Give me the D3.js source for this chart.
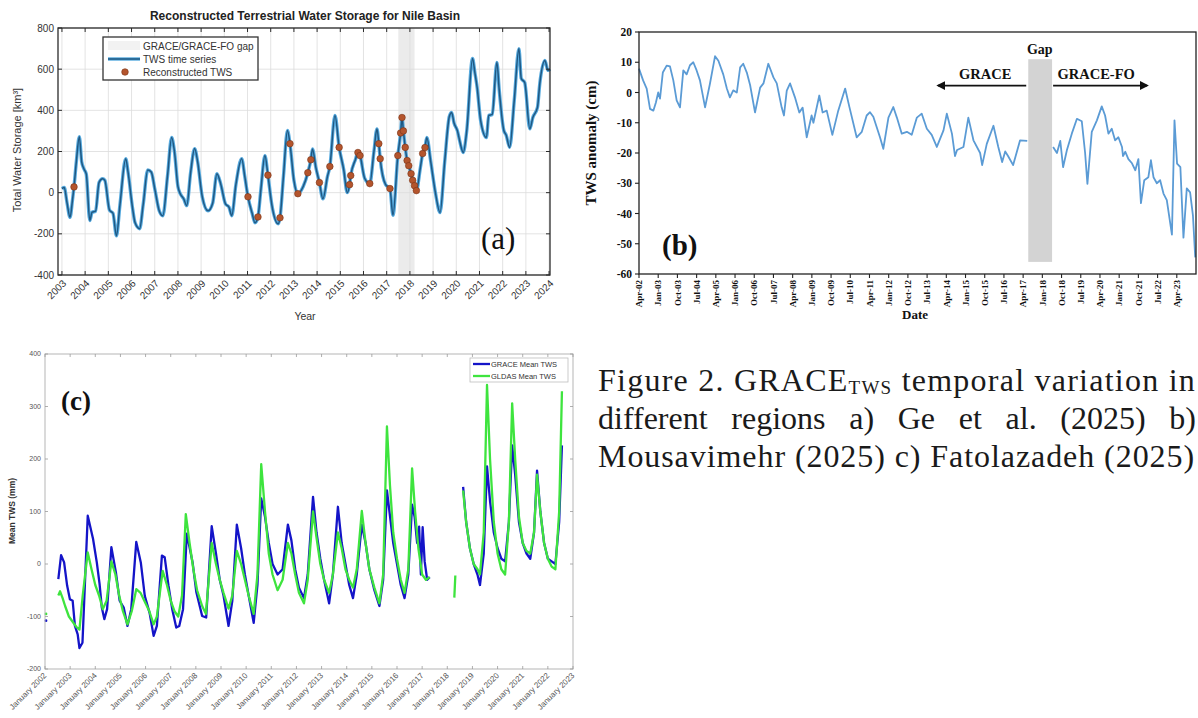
<!DOCTYPE html>
<html>
<head>
<meta charset="utf-8">
<script src="https://cdn.jsdelivr.net/npm/d3@7"></script>
<style>
  body { margin: 0; background: #fff; }
  svg { display: block; }
</style>
</head>
<body>
<div id="chart"></div>
<script>
// ---------- data (a) Ge et al., Nile basin TWS [km3] ----------
const aYears = d3.range(2003, 2025);
const aTicksY = [-400, -200, 0, 200, 400, 600, 800];
const aGap = [2017.5, 2018.2];
const aTws = [
  [2003.00, 20], [2003.10, 25], [2003.22, -50], [2003.35, -120], [2003.45, -40], [2003.52, 28],
  [2003.62, 150], [2003.75, 272], [2003.85, 150], [2003.95, 115], [2004.05, 90], [2004.20, -135],
  [2004.30, -95], [2004.45, -90], [2004.60, 50], [2004.75, 68], [2004.85, 60], [2005.05, -85],
  [2005.20, -100], [2005.35, -210], [2005.50, -60], [2005.75, 165], [2005.85, 100], [2006.05, -80],
  [2006.15, -145], [2006.35, -175], [2006.50, -60], [2006.70, 110], [2006.85, 100], [2007.00, 20],
  [2007.20, -90], [2007.35, -112], [2007.55, 80], [2007.73, 268], [2007.85, 200], [2008.00, 30],
  [2008.10, -5], [2008.25, -30], [2008.38, -63], [2008.55, 100], [2008.72, 214], [2008.85, 150],
  [2009.05, -20], [2009.30, -88], [2009.50, -50], [2009.68, 92], [2009.85, 40], [2010.05, -55],
  [2010.20, -70], [2010.32, -112], [2010.50, 40], [2010.75, 165], [2010.88, 80], [2011.02, -20],
  [2011.20, -100], [2011.32, -146], [2011.45, -118], [2011.58, 20], [2011.75, 180], [2011.88, 85],
  [2012.05, -60], [2012.32, -151], [2012.40, -122], [2012.55, 80], [2012.72, 302], [2012.83, 238],
  [2013.00, 60], [2013.17, -5], [2013.40, 30], [2013.60, 97], [2013.73, 160], [2013.80, 212],
  [2013.95, 120], [2014.10, 49], [2014.25, -30], [2014.45, 80], [2014.55, 127], [2014.77, 375],
  [2014.95, 220], [2015.15, 110], [2015.30, 0], [2015.40, 39], [2015.45, 83], [2015.65, 160],
  [2015.76, 195], [2015.85, 180], [2016.05, 70], [2016.27, 44], [2016.45, 200], [2016.58, 310],
  [2016.66, 238], [2016.72, 165], [2016.95, 40], [2017.14, 20], [2017.27, -110], [2017.48, 180],
  [2017.60, 290], [2017.66, 365], [2017.72, 300], [2017.80, 220], [2017.88, 156], [2017.95, 131],
  [2018.05, 92], [2018.12, 60], [2018.20, 34], [2018.28, 10], [2018.45, 120], [2018.55, 190],
  [2018.65, 219], [2018.73, 268], [2018.90, 150], [2019.10, 0], [2019.30, -97], [2019.50, 150],
  [2019.70, 370], [2019.80, 390], [2019.90, 340], [2020.05, 300], [2020.15, 250], [2020.30, 195],
  [2020.45, 300], [2020.70, 652], [2020.80, 584], [2020.90, 510], [2021.05, 350], [2021.30, 268],
  [2021.40, 375], [2021.55, 380], [2021.75, 633], [2021.85, 500], [2022.05, 302], [2022.15, 280],
  [2022.30, 220], [2022.50, 450], [2022.70, 700], [2022.80, 555], [2022.95, 535], [2023.17, 310],
  [2023.30, 365], [2023.50, 414], [2023.60, 530], [2023.82, 642], [2023.95, 594], [2024.04, 600]
];
const aRecon = [
  [2003.52, 28], [2011.02, -20], [2011.45, -118], [2011.88, 85], [2012.40, -122], [2012.83, 238],
  [2013.17, -5], [2013.60, 97], [2013.73, 160], [2014.10, 49], [2014.55, 127], [2014.95, 220],
  [2015.40, 39], [2015.45, 83], [2015.76, 195], [2015.85, 180], [2016.27, 44], [2016.66, 238],
  [2016.72, 165], [2017.14, 20], [2017.48, 180], [2017.60, 290], [2017.66, 365], [2017.72, 300],
  [2017.80, 220], [2017.88, 156], [2017.95, 131], [2018.05, 92], [2018.12, 60], [2018.20, 34],
  [2018.28, 10], [2018.55, 190], [2018.65, 219]
];

// ---------- data (b) Mousavimehr, TWS anomaly [cm] ----------
const bTicksY = [20, 10, 0, -10, -20, -30, -40, -50, -60];
const bTickLabels = ["Apr-02", "Jan-03", "Oct-03", "Jul-04", "Apr-05", "Jan-06", "Oct-06", "Jul-07",
  "Apr-08", "Jan-09", "Oct-09", "Jul-10", "Apr-11", "Jan-12", "Oct-12", "Jul-13", "Apr-14", "Jan-15",
  "Oct-15", "Jul-16", "Apr-17", "Jan-18", "Oct-18", "Jul-19", "Apr-20", "Jan-21", "Oct-21", "Jul-22", "Apr-23"];
const bGap = [2017.45, 2018.38];
const bGapSpan = [11, -56];
const bTws = [
  [2002.25, 7.9], [2002.41, 4], [2002.55, 1.3], [2002.68, -5.4], [2002.81, -6], [2002.91, -3.3],
  [2003.00, 0], [2003.07, -2], [2003.18, 6.6], [2003.33, 8.9], [2003.46, 8.6], [2003.59, 4],
  [2003.72, -2.6], [2003.85, -4.9], [2003.98, 7.3], [2004.11, 6], [2004.24, 9], [2004.37, 10],
  [2004.50, 7.3], [2004.63, 4], [2004.83, -4.9], [2005.02, 2.9], [2005.22, 12], [2005.35, 10.5],
  [2005.54, 6], [2005.68, 1.3], [2005.80, -1.6], [2005.93, 0.7], [2006.07, 0], [2006.20, 8.3],
  [2006.32, 9.5], [2006.46, 6.6], [2006.59, 2.4], [2006.78, -6.6], [2006.98, 1.6], [2007.11, 3],
  [2007.30, 9.5], [2007.50, 5], [2007.63, 3], [2007.82, -4.9], [2007.91, -7.6], [2008.02, 0.6],
  [2008.15, 3], [2008.34, -1.6], [2008.51, -6.6], [2008.64, -5], [2008.80, -14.8], [2008.99, -7.6],
  [2009.06, -10], [2009.29, -1], [2009.42, -6.6], [2009.58, -6], [2009.80, -14], [2010.03, -6],
  [2010.30, 1.3], [2010.46, -4.6], [2010.75, -14.8], [2010.95, -13], [2011.14, -7.6], [2011.27, -6.5],
  [2011.40, -8], [2011.66, -14.8], [2011.79, -18.6], [2011.99, -8.3], [2012.18, -4.8], [2012.32, -8.3],
  [2012.51, -13.6], [2012.71, -13], [2012.90, -14], [2013.10, -8.3], [2013.29, -7], [2013.49, -12],
  [2013.68, -14], [2013.88, -18], [2014.14, -12.5], [2014.27, -7], [2014.47, -13.6], [2014.59, -21],
  [2014.67, -19], [2014.92, -18], [2015.11, -8.3], [2015.31, -15.8], [2015.57, -20], [2015.65, -24],
  [2015.83, -17], [2016.09, -11], [2016.28, -18], [2016.43, -23], [2016.55, -19.5], [2016.66, -21],
  [2016.86, -24], [2017.13, -15.8], [2017.41, -16],
  null,
  [2018.42, -18], [2018.57, -20], [2018.70, -16], [2018.81, -24.7], [2018.96, -19], [2019.15, -13.6],
  [2019.35, -8.7], [2019.54, -9.5], [2019.67, -20], [2019.76, -30.2], [2019.93, -13], [2020.13, -9.2],
  [2020.32, -4.6], [2020.45, -7.6], [2020.58, -13.6], [2020.71, -12], [2020.84, -15.8], [2020.97, -14.8],
  [2021.11, -18], [2021.15, -21], [2021.24, -19.6], [2021.36, -22], [2021.50, -23.4], [2021.63, -25.7],
  [2021.75, -22], [2021.85, -36.6], [2021.98, -29], [2022.14, -28], [2022.24, -22.4], [2022.34, -28],
  [2022.47, -30], [2022.60, -29], [2022.73, -33.4], [2022.86, -35.6], [2023.06, -47], [2023.16, -9.2],
  [2023.26, -23.5], [2023.39, -24.7], [2023.51, -48], [2023.64, -31.7], [2023.77, -33], [2023.88, -40.6],
  [2023.97, -54.5]
];

// ---------- data (c) Fatolazadeh, mean TWS [mm] ----------
const cYears = d3.range(2002, 2024);
const cTicksY = [-200, -100, 0, 100, 200, 300, 400];
const cGraceIso = [[2002.04, -108]];
const cGldasIso = [[2002.04, -95]];
const cGrace = [
  [2002.53, -29], [2002.64, 17], [2002.76, 3], [2002.88, -41], [2002.99, -67], [2003.10, -70],
  [2003.19, -118], [2003.30, -134], [2003.37, -160], [2003.49, -150], [2003.70, 92], [2003.91, 48],
  [2004.06, 3], [2004.17, -38], [2004.26, -83], [2004.36, -105], [2004.47, -86], [2004.64, 32],
  [2004.82, -16], [2004.97, -70], [2005.13, -83], [2005.28, -118], [2005.43, -86], [2005.63, 42],
  [2005.81, 3], [2005.97, -61], [2006.16, -93], [2006.32, -137], [2006.45, -118], [2006.65, 16],
  [2006.76, 13], [2006.91, -41], [2007.06, -86], [2007.22, -121], [2007.34, -118], [2007.49, -86],
  [2007.64, 58], [2007.87, 3], [2008.02, -54], [2008.25, -99], [2008.41, -102], [2008.63, 72],
  [2008.80, 20], [2008.95, -30], [2009.10, -60], [2009.30, -118], [2009.45, -70], [2009.63, 75],
  [2009.80, 30], [2009.95, -20], [2010.10, -60], [2010.30, -112], [2010.45, -40], [2010.60, 125],
  [2010.75, 90], [2010.90, 40], [2011.05, 0], [2011.25, -20], [2011.45, -10], [2011.66, 75],
  [2011.80, 45], [2011.95, -10], [2012.10, -45], [2012.30, -65], [2012.45, -20], [2012.66, 128],
  [2012.80, 60], [2012.95, 10], [2013.10, -30], [2013.30, -75], [2013.45, -20], [2013.65, 109],
  [2013.80, 40], [2013.95, 0], [2014.10, -40], [2014.25, -65], [2014.40, -20], [2014.60, 75],
  [2014.75, 40], [2014.90, -10], [2015.10, -50], [2015.30, -80], [2015.45, -30], [2015.60, 140],
  [2015.70, 100], [2015.85, 40], [2016.00, 0], [2016.15, -40], [2016.30, -65], [2016.45, -20],
  [2016.60, 113], [2016.70, 90], [2016.80, 40], [2016.88, 71], [2016.95, -20], [2017.02, 70],
  [2017.10, 5], [2017.20, -30], [2017.30, -25],
  null,
  [2018.63, 147], [2018.75, 80], [2018.90, 30], [2019.05, 0], [2019.20, -20], [2019.30, -40],
  [2019.45, 20], [2019.58, 186], [2019.70, 120], [2019.85, 60], [2020.00, 30], [2020.15, 10],
  [2020.30, 5], [2020.45, 80], [2020.58, 226], [2020.70, 170], [2020.85, 80], [2021.00, 40],
  [2021.15, 20], [2021.30, 10], [2021.45, 60], [2021.57, 178], [2021.70, 100], [2021.85, 40],
  [2022.00, 10], [2022.15, 5], [2022.30, 0], [2022.45, 80], [2022.56, 226]
];
const cGldas = [
  [2002.53, -60], [2002.60, -52], [2002.70, -65], [2002.80, -80], [2002.95, -100], [2003.10, -110],
  [2003.25, -120], [2003.37, -125], [2003.50, -60], [2003.70, 22], [2003.85, -10], [2004.00, -40],
  [2004.15, -60], [2004.30, -86], [2004.45, -70], [2004.64, 5], [2004.80, -20], [2004.95, -60],
  [2005.10, -90], [2005.28, -115], [2005.45, -90], [2005.63, -48], [2005.80, -55], [2005.95, -70],
  [2006.15, -90], [2006.32, -115], [2006.45, -100], [2006.68, -13], [2006.85, -40], [2007.00, -70],
  [2007.15, -90], [2007.30, -100], [2007.45, -60], [2007.60, 95], [2007.75, 40], [2007.90, -10],
  [2008.05, -50], [2008.25, -80], [2008.40, -95], [2008.63, 40], [2008.80, 0], [2008.95, -30],
  [2009.10, -55], [2009.30, -85], [2009.45, -60], [2009.63, 25], [2009.80, 0], [2009.95, -30],
  [2010.10, -60], [2010.30, -95], [2010.45, -20], [2010.60, 190], [2010.75, 100], [2010.90, 20],
  [2011.05, -20], [2011.25, -50], [2011.45, -30], [2011.66, 40], [2011.80, 20], [2011.95, -20],
  [2012.10, -55], [2012.30, -75], [2012.45, -30], [2012.66, 100], [2012.80, 50], [2012.95, 0],
  [2013.10, -30], [2013.30, -55], [2013.45, -20], [2013.65, 60], [2013.80, 30], [2013.95, -10],
  [2014.10, -30], [2014.25, -45], [2014.40, -10], [2014.60, 101], [2014.75, 40], [2014.90, -10],
  [2015.10, -45], [2015.30, -75], [2015.45, -20], [2015.60, 262], [2015.72, 150], [2015.85, 60],
  [2016.00, 10], [2016.15, -30], [2016.30, -55], [2016.45, -10], [2016.60, 182], [2016.72, 100],
  [2016.85, 30], [2017.00, -20], [2017.15, -30], [2017.30, -25],
  null,
  [2018.28, -64], [2018.32, -22],
  null,
  [2018.63, 140], [2018.75, 80], [2018.90, 30], [2019.05, 0], [2019.20, -10], [2019.30, -20],
  [2019.45, 60], [2019.58, 341], [2019.70, 200], [2019.85, 80], [2020.00, 20], [2020.15, -10],
  [2020.30, -20], [2020.45, 80], [2020.58, 306], [2020.70, 200], [2020.85, 90], [2021.00, 40],
  [2021.15, 25], [2021.30, 20], [2021.45, 60], [2021.57, 170], [2021.70, 100], [2021.85, 40],
  [2022.00, 10], [2022.15, -5], [2022.30, -10], [2022.45, 100], [2022.56, 329]
];

// ---------- caption ----------
const capLines = [
  [["Figure 2. GRACE", false], ["TWS", true], [" temporal variation in", false]],
  [["different regions a) Ge et al. (2025) b)", false]],
  [["Mousavimehr (2025) c) Fatolazadeh (2025)", false]]
];

const width = 1198;
const height = 718;
const sans = "'Liberation Sans', Arial, sans-serif";
const serif = "'Liberation Serif', 'Times New Roman', serif";

const svg = d3.select("#chart").append("svg")
    .attr("width", width)
    .attr("height", height)
    .attr("viewBox", [0, 0, width, height]);

const defs = svg.append("defs");
defs.append("marker")
    .attr("id", "arrow")
    .attr("viewBox", "0 0 10 10")
    .attr("refX", 8).attr("refY", 5)
    .attr("markerWidth", 5).attr("markerHeight", 5)
    .attr("orient", "auto")
  .append("path")
    .attr("d", "M0,0 L10,5 L0,10 z")
    .attr("fill", "#111");

// =============== panel (a) ===============
{
  const x = d3.scaleLinear().domain([2002.83, 2024.04]).range([58, 550]);
  const y = d3.scaleLinear().domain([-400, 800]).range([275, 28]);
  const g = svg.append("g");

  // gap band
  g.append("rect")
      .attr("x", x(aGap[0])).attr("width", x(aGap[1]) - x(aGap[0]))
      .attr("y", y(800)).attr("height", y(-400) - y(800))
      .attr("fill", "#ebebeb");

  // grid
  g.append("g")
      .attr("stroke", "#dcdcdc")
      .attr("stroke-width", 0.8)
      .call(gg => gg.selectAll(".v").data(aYears).join("line")
          .attr("x1", d => x(d)).attr("x2", d => x(d))
          .attr("y1", y(800)).attr("y2", y(-400)))
      .call(gg => gg.selectAll(".h").data(aTicksY).join("line")
          .attr("y1", d => y(d)).attr("y2", d => y(d))
          .attr("x1", x.range()[0]).attr("x2", x.range()[1]));

  // series
  const line = d3.line()
      .x(d => x(d[0])).y(d => y(d[1]))
      .curve(d3.curveMonotoneX);
  g.append("path").datum(aTws)
      .attr("fill", "none").attr("stroke", "#58abdf").attr("stroke-width", 3.4)
      .attr("stroke-linejoin", "round").attr("d", line);
  g.append("path").datum(aTws)
      .attr("fill", "none").attr("stroke", "#1f5883").attr("stroke-width", 1.5)
      .attr("stroke-linejoin", "round").attr("d", line);

  g.append("g").selectAll("circle").data(aRecon).join("circle")
      .attr("cx", d => x(d[0])).attr("cy", d => y(d[1]))
      .attr("r", 3.3)
      .attr("fill", "#b4552d")
      .attr("stroke", "#7a3418").attr("stroke-width", 0.6);

  // frame and ticks
  g.append("rect")
      .attr("x", x.range()[0]).attr("y", y(800))
      .attr("width", x.range()[1] - x.range()[0]).attr("height", y(-400) - y(800))
      .attr("fill", "none").attr("stroke", "#2b2b2b").attr("stroke-width", 1.3);
  const tk = g.append("g").attr("stroke", "#2b2b2b").attr("stroke-width", 1);
  tk.selectAll(".tb").data(aYears).join("line")
      .attr("x1", d => x(d)).attr("x2", d => x(d)).attr("y1", y(-400)).attr("y2", y(-400) - 4);
  tk.selectAll(".tt").data(aYears).join("line")
      .attr("x1", d => x(d)).attr("x2", d => x(d)).attr("y1", y(800)).attr("y2", y(800) + 4);
  tk.selectAll(".tl").data(aTicksY).join("line")
      .attr("y1", d => y(d)).attr("y2", d => y(d)).attr("x1", x.range()[0]).attr("x2", x.range()[0] + 4);
  tk.selectAll(".tr").data(aTicksY).join("line")
      .attr("y1", d => y(d)).attr("y2", d => y(d)).attr("x1", x.range()[1]).attr("x2", x.range()[1] - 4);

  const lab = g.append("g").attr("font-family", sans).attr("fill", "#333");
  lab.selectAll(".yl").data(aTicksY).join("text")
      .attr("x", x.range()[0] - 4).attr("y", d => y(d)).attr("dy", "0.35em")
      .attr("text-anchor", "end").attr("font-size", 10)
      .text(d => d);
  lab.selectAll(".xl").data(aYears).join("text")
      .attr("transform", d => `translate(${x(d) + 5},${y(-400) + 9}) rotate(-45)`)
      .attr("text-anchor", "end").attr("font-size", 10)
      .text(d => d);
  lab.append("text")
      .attr("x", 305).attr("y", 320).attr("text-anchor", "middle").attr("font-size", 10.5)
      .text("Year");
  lab.append("text")
      .attr("transform", "translate(21,150) rotate(-90)")
      .attr("text-anchor", "middle").attr("font-size", 11)
      .text("Total Water Storage [km³]");
  lab.append("text")
      .attr("x", 305).attr("y", 20).attr("text-anchor", "middle")
      .attr("font-size", 12).attr("font-weight", "bold").attr("fill", "#222")
      .text("Reconstructed Terrestrial Water Storage for Nile Basin");

  // legend
  const lg = g.append("g");
  lg.append("rect").attr("x", 103).attr("y", 37).attr("width", 155).attr("height", 43)
      .attr("fill", "#fff").attr("stroke", "#333").attr("stroke-width", 1.3);
  lg.append("rect").attr("x", 108).attr("y", 41).attr("width", 32).attr("height", 9).attr("fill", "#f2f2f2");
  lg.append("line").attr("x1", 108).attr("x2", 140).attr("y1", 59).attr("y2", 59)
      .attr("stroke", "#58abdf").attr("stroke-width", 3.4);
  lg.append("line").attr("x1", 108).attr("x2", 140).attr("y1", 59).attr("y2", 59)
      .attr("stroke", "#1f5883").attr("stroke-width", 1.5);
  lg.append("circle").attr("cx", 125).attr("cy", 72).attr("r", 3.3)
      .attr("fill", "#b4552d").attr("stroke", "#7a3418").attr("stroke-width", 0.6);
  lg.selectAll("text").data(["GRACE/GRACE-FO gap", "TWS time series", "Reconstructed TWS"]).join("text")
      .attr("x", 143).attr("y", (d, i) => 46 + i * 13).attr("dy", "0.35em")
      .attr("font-family", sans).attr("font-size", 10).attr("fill", "#333")
      .text(d => d);

  g.append("text").attr("x", 481).attr("y", 249)
      .attr("font-family", serif).attr("font-size", 31).attr("fill", "#111")
      .text("(a)");
}

// =============== panel (b) ===============
{
  const x = d3.scaleLinear().domain([2002.25, 2024.0]).range([639, 1196]);
  const y = d3.scaleLinear().domain([-60, 20]).range([274, 32]);
  const g = svg.append("g");
  const months = { Jan: 0, Apr: 3, Jul: 6, Oct: 9 };
  const tickT = s => 2000 + +s.slice(4) + months[s.slice(0, 3)] / 12;

  g.append("rect")
      .attr("x", x(bGap[0])).attr("width", x(bGap[1]) - x(bGap[0]))
      .attr("y", y(bGapSpan[0])).attr("height", y(bGapSpan[1]) - y(bGapSpan[0]))
      .attr("fill", "#d3d3d3");

  g.append("path").datum(bTws)
      .attr("fill", "none").attr("stroke", "#5b9bd5").attr("stroke-width", 1.8)
      .attr("stroke-linejoin", "round")
      .attr("d", d3.line().defined(d => d !== null).x(d => x(d[0])).y(d => y(d[1])));

  g.append("rect")
      .attr("x", x.range()[0]).attr("y", y(20))
      .attr("width", x.range()[1] - x.range()[0]).attr("height", y(-60) - y(20))
      .attr("fill", "none").attr("stroke", "#222").attr("stroke-width", 1.3);

  const tk = g.append("g").attr("stroke", "#222").attr("stroke-width", 1.1);
  tk.selectAll(".ty").data(bTicksY).join("line")
      .attr("x1", x.range()[0] - 4).attr("x2", x.range()[0])
      .attr("y1", d => y(d)).attr("y2", d => y(d));
  tk.selectAll(".tx").data(bTickLabels).join("line")
      .attr("x1", d => x(tickT(d))).attr("x2", d => x(tickT(d)))
      .attr("y1", y(-60)).attr("y2", y(-60) + 4);

  const lab = g.append("g").attr("font-family", serif).attr("font-weight", "bold").attr("fill", "#111");
  lab.selectAll(".yl").data(bTicksY).join("text")
      .attr("x", x.range()[0] - 7).attr("y", d => y(d)).attr("dy", "0.35em")
      .attr("text-anchor", "end").attr("font-size", 11.5)
      .text(d => d);
  lab.selectAll(".xl").data(bTickLabels).join("text")
      .attr("transform", d => `translate(${x(tickT(d)) + 3.2},${y(-60) + 6}) rotate(-90)`)
      .attr("text-anchor", "end").attr("font-size", 9)
      .text(d => d);
  lab.append("text")
      .attr("transform", "translate(596,143) rotate(-90)")
      .attr("text-anchor", "middle").attr("font-size", 15)
      .text("TWS anomaly (cm)");
  lab.append("text")
      .attr("x", 915).attr("y", 319).attr("text-anchor", "middle").attr("font-size", 13)
      .text("Date");

  // annotations
  lab.append("text").attr("x", x(2017.9)).attr("y", y(12.8))
      .attr("text-anchor", "middle").attr("font-size", 14).text("Gap");
  lab.append("text").attr("x", x(2015.77)).attr("y", y(4.6))
      .attr("text-anchor", "middle").attr("font-size", 14.5).text("GRACE");
  lab.append("text").attr("x", x(2020.1)).attr("y", y(4.6))
      .attr("text-anchor", "middle").attr("font-size", 14.5).text("GRACE-FO");
  g.append("line")
      .attr("x1", x(2017.37)).attr("x2", x(2013.93)).attr("y1", y(2.3)).attr("y2", y(2.3))
      .attr("stroke", "#111").attr("stroke-width", 1.8).attr("marker-end", "url(#arrow)");
  g.append("line")
      .attr("x1", x(2018.42)).attr("x2", x(2022.09)).attr("y1", y(2.3)).attr("y2", y(2.3))
      .attr("stroke", "#111").attr("stroke-width", 1.8).attr("marker-end", "url(#arrow)");

  g.append("text").attr("x", 662).attr("y", 255)
      .attr("font-family", serif).attr("font-weight", "bold").attr("font-size", 29).attr("fill", "#111")
      .text("(b)");
}

// =============== panel (c) ===============
{
  const x = d3.scaleLinear().domain([2002, 2023]).range([45, 573]);
  const y = d3.scaleLinear().domain([-200, 400]).range([669, 354]);
  const g = svg.append("g");
  const line = d3.line().defined(d => d !== null).x(d => x(d[0])).y(d => y(d[1]));

  g.append("path").datum(cGrace)
      .attr("fill", "none").attr("stroke", "#1414c8").attr("stroke-width", 2.3)
      .attr("stroke-linejoin", "round").attr("d", line);
  g.append("path").datum(cGldas)
      .attr("fill", "none").attr("stroke", "#3ee43e").attr("stroke-width", 2.3)
      .attr("stroke-linejoin", "round").attr("d", line);
  g.selectAll(".gi").data(cGraceIso).join("circle")
      .attr("cx", d => x(d[0])).attr("cy", d => y(d[1])).attr("r", 1.4).attr("fill", "#1414c8");
  g.selectAll(".li").data(cGldasIso).join("circle")
      .attr("cx", d => x(d[0])).attr("cy", d => y(d[1])).attr("r", 1.4).attr("fill", "#3ee43e");

  g.append("rect")
      .attr("x", x(2002)).attr("y", y(400))
      .attr("width", x(2023) - x(2002)).attr("height", y(-200) - y(400))
      .attr("fill", "none").attr("stroke", "#b5b5b5").attr("stroke-width", 1);
  const tk = g.append("g").attr("stroke", "#9a9a9a").attr("stroke-width", 0.8);
  tk.selectAll(".tb").data(cYears).join("line")
      .attr("x1", d => x(d)).attr("x2", d => x(d)).attr("y1", y(-200)).attr("y2", y(-200) - 3);
  tk.selectAll(".tt").data(cYears).join("line")
      .attr("x1", d => x(d)).attr("x2", d => x(d)).attr("y1", y(400)).attr("y2", y(400) + 3);
  tk.selectAll(".tl").data(cTicksY).join("line")
      .attr("y1", d => y(d)).attr("y2", d => y(d)).attr("x1", x(2002)).attr("x2", x(2002) + 3);
  tk.selectAll(".tr").data(cTicksY).join("line")
      .attr("y1", d => y(d)).attr("y2", d => y(d)).attr("x1", x(2023)).attr("x2", x(2023) - 3);

  const lab = g.append("g").attr("font-family", sans).attr("fill", "#555");
  lab.selectAll(".yl").data(cTicksY).join("text")
      .attr("x", x(2002) - 4).attr("y", d => y(d)).attr("dy", "0.35em")
      .attr("text-anchor", "end").attr("font-size", 7)
      .text(d => d);
  lab.selectAll(".xl").data(cYears).join("text")
      .attr("transform", d => `translate(${x(d) + 2},${y(-200) + 7}) rotate(-45)`)
      .attr("text-anchor", "end").attr("font-size", 8)
      .text(d => "January " + d);
  lab.append("text")
      .attr("transform", "translate(15,511) rotate(-90)")
      .attr("text-anchor", "middle").attr("font-size", 8.5).attr("font-weight", "bold").attr("fill", "#333")
      .text("Mean TWS (mm)");

  // legend
  const lg = g.append("g");
  lg.append("rect").attr("x", 470).attr("y", 358).attr("width", 98).attr("height", 24)
      .attr("fill", "#fff").attr("stroke", "#bdbdbd").attr("stroke-width", 0.8);
  lg.selectAll("line").data([["GRACE Mean TWS", "#1414c8"], ["GLDAS Mean TWS", "#3ee43e"]]).join("line")
      .attr("x1", 473).attr("x2", 490).attr("y1", (d, i) => 364 + i * 12).attr("y2", (d, i) => 364 + i * 12)
      .attr("stroke", d => d[1]).attr("stroke-width", 2.3);
  lg.selectAll("text").data(["GRACE Mean TWS", "GLDAS Mean TWS"]).join("text")
      .attr("x", 491).attr("y", (d, i) => 364 + i * 12).attr("dy", "0.35em")
      .attr("font-family", sans).attr("font-size", 7.5).attr("fill", "#333")
      .text(d => d);

  g.append("text").attr("x", 61).attr("y", 410)
      .attr("font-family", serif).attr("font-weight", "bold").attr("font-size", 27).attr("fill", "#111")
      .text("(c)");
}

// =============== caption ===============
{
  const targets = [1196, 1196, 1195];
  const left = 598;
  capLines.forEach((parts, i) => {
    const t = svg.append("text")
        .attr("x", left).attr("y", 391 + i * 38)
        .attr("font-family", serif).attr("font-size", 32).attr("fill", "#1a1a1a");
    parts.forEach(([s, sub], j) => {
      const ts = t.append("tspan").text(s);
      if (sub) ts.attr("font-size", 19).attr("dy", 3);
      else if (j > 0) ts.attr("dy", -3);
    });
    const w = t.node().getComputedTextLength();
    const text = parts.map(p => p[0]).join("");
    if (i === 1) {
      const spaces = text.split(" ").length - 1;
      t.attr("word-spacing", Math.max(0, (targets[i] - left - w) / spaces));
    } else {
      t.attr("letter-spacing", Math.max(0, (targets[i] - left - w) / text.length));
    }
  });
}
</script>
</body>
</html>
